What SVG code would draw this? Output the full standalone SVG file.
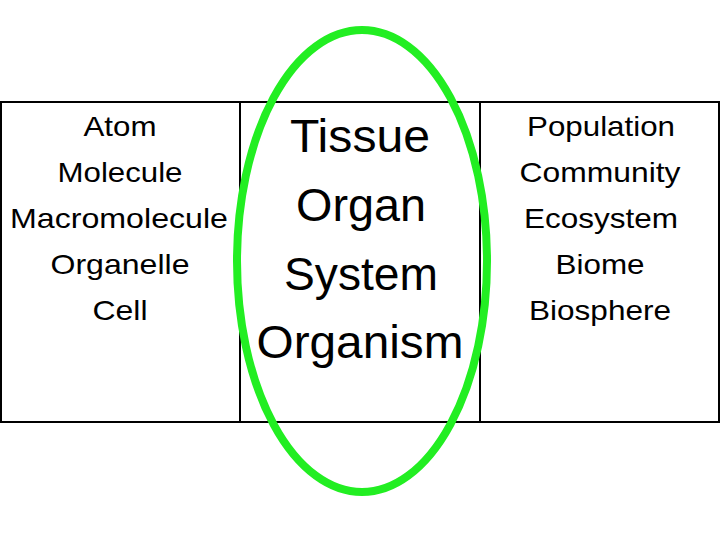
<svg xmlns="http://www.w3.org/2000/svg" width="720" height="540" viewBox="0 0 720 540">
<style>
.s{font-family:"Liberation Sans",Arial,sans-serif;font-size:28px;text-anchor:middle;fill:#000}
.b{font-family:"Liberation Sans",Arial,sans-serif;font-size:47px;text-anchor:middle;fill:#000}
</style>
<rect width="720" height="540" fill="#fff"/>
<g id="table" fill="none" stroke="#000" stroke-width="2">
<rect x="1" y="102" width="718" height="320"/>
<line x1="240" y1="102" x2="240" y2="422"/>
<line x1="480" y1="102" x2="480" y2="422"/>
</g>
<g id="left">
<text class="s" x="120" y="136" textLength="73" lengthAdjust="spacingAndGlyphs">Atom</text>
<text class="s" x="120" y="182" textLength="125" lengthAdjust="spacingAndGlyphs">Molecule</text>
<text class="s" x="119" y="228" textLength="218" lengthAdjust="spacingAndGlyphs">Macromolecule</text>
<text class="s" x="120" y="274" textLength="139" lengthAdjust="spacingAndGlyphs">Organelle</text>
<text class="s" x="120" y="320" textLength="55" lengthAdjust="spacingAndGlyphs">Cell</text>
</g>
<g id="middle">
<text class="b" x="360" y="152" textLength="140" lengthAdjust="spacingAndGlyphs">Tissue</text>
<text class="b" x="361" y="221" textLength="130" lengthAdjust="spacingAndGlyphs">Organ</text>
<text class="b" x="361" y="290" textLength="154" lengthAdjust="spacingAndGlyphs">System</text>
<text class="b" x="360" y="358" textLength="207" lengthAdjust="spacingAndGlyphs">Organism</text>
</g>
<g id="right">
<text class="s" x="601" y="136" textLength="148" lengthAdjust="spacingAndGlyphs">Population</text>
<text class="s" x="600" y="182" textLength="161" lengthAdjust="spacingAndGlyphs">Community</text>
<text class="s" x="601" y="228" textLength="154" lengthAdjust="spacingAndGlyphs">Ecosystem</text>
<text class="s" x="600" y="274" textLength="89" lengthAdjust="spacingAndGlyphs">Biome</text>
<text class="s" x="600" y="320" textLength="142" lengthAdjust="spacingAndGlyphs">Biosphere</text>
</g>
<g id="highlight">
<ellipse cx="362" cy="261" rx="125" ry="231" fill="none" stroke="#22ee22" stroke-width="8"/>
</g>
</svg>
